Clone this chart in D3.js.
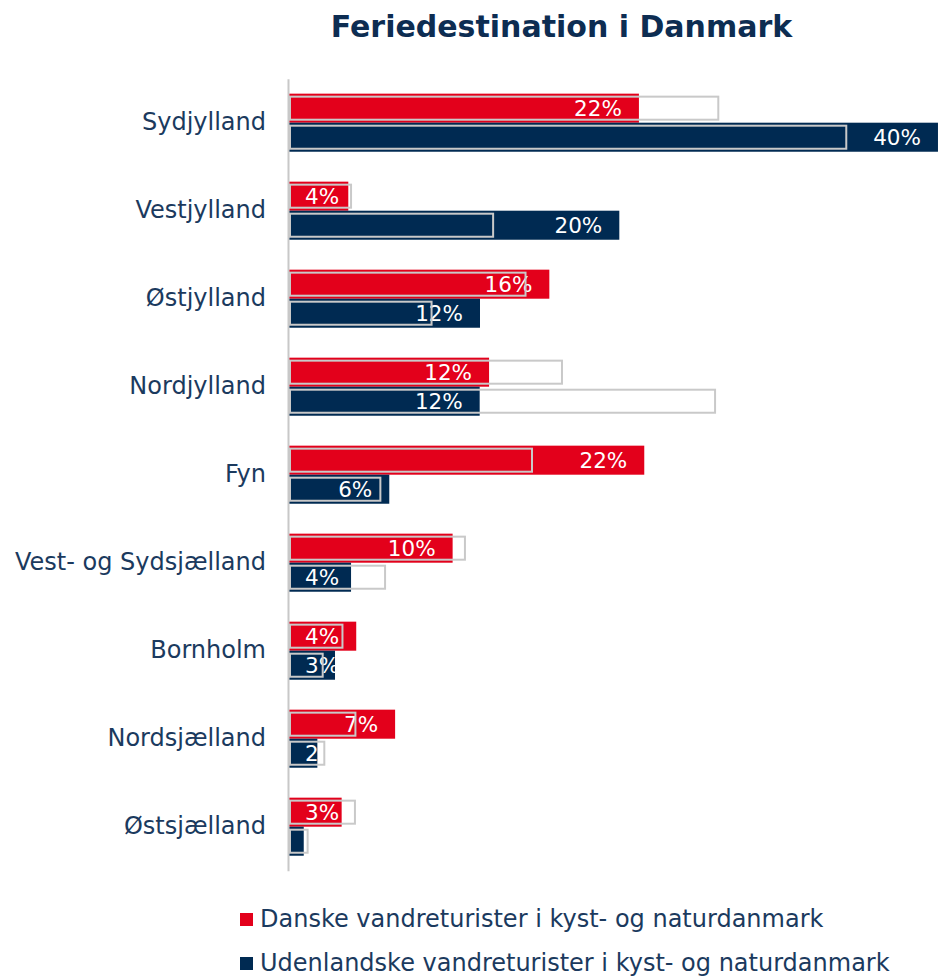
<!DOCTYPE html>
<html>
<head>
<meta charset="utf-8">
<script src="https://cdn.jsdelivr.net/npm/d3@7"></script>
<style>
body { margin: 0; background: #fff; }
svg { display: block; font-family: "DejaVu Sans", sans-serif; }
</style>
</head>
<body>
<svg></svg>
<script>
// data
var regioner = ["Sydjylland", "Vestjylland", "Østjylland", "Nordjylland", "Fyn",
                "Vest- og Sydsjælland", "Bornholm", "Nordsjælland", "Østsjælland"];
var danske = [21.6, 3.66, 16.07, 12.35, 21.93, 10.1, 4.15, 6.55, 3.25];
var udenlandske = [40.06, 20.39, 11.79, 11.77, 6.19, 3.83, 2.84, 1.75, 0.91];
// the grey outlined bars (reference values)
var danskeRef = [26.5, 3.83, 14.6, 16.85, 15.0, 10.86, 3.3, 4.1, 4.07];
var udenlandskeRef = [34.4, 12.6, 8.8, 26.3, 5.64, 5.93, 2.08, 2.18, 1.15];
var serier = ["Danske vandreturister i kyst- og naturdanmark",
              "Udenlandske vandreturister i kyst- og naturdanmark"];
var farver = ["#e3001b", "#002a52"];

var screen = {width: 938, height: 978};
var tekstFarve = "#1b3a5e";

var svg = d3.select("svg")
    .attr("width", screen.width)
    .attr("height", screen.height);

var rows = [];
regioner.forEach(function(r, i) {
    rows.push({region: r, serie: 0, value: danske[i], ref: danskeRef[i]});
    rows.push({region: r, serie: 1, value: udenlandske[i], ref: udenlandskeRef[i]});
});

var xScale = d3.scaleLinear()
    .domain([0, 40])
    .range([289, 937]);

var yScale = d3.scaleBand()
    .domain(regioner)
    .range([78.7, 870.7])
    .paddingInner(0.34)
    .paddingOuter(0.17);

var ySub = d3.scaleBand()
    .domain([0, 1])
    .range([0, yScale.bandwidth()]);

// title
svg.append("text")
    .attr("x", 561.5)
    .attr("y", 37)
    .attr("text-anchor", "middle")
    .attr("font-size", "30px")
    .attr("font-weight", "bold")
    .attr("fill", "#0d2d52")
    .text("Feriedestination i Danmark");

// bars
svg.append("g")
    .selectAll("rect")
    .data(rows)
    .enter()
    .append("rect")
    .attr("x", xScale(0))
    .attr("y", function(d) { return yScale(d.region) + ySub(d.serie); })
    .attr("width", function(d) { return xScale(d.value) - xScale(0); })
    .attr("height", ySub.bandwidth())
    .attr("fill", function(d) { return farver[d.serie]; });

// value labels (white, inside end)
svg.append("g")
    .selectAll("text")
    .data(rows)
    .enter()
    .append("text")
    .attr("y", function(d) { return yScale(d.region) + ySub(d.serie) + ySub.bandwidth() / 2; })
    .attr("dy", "0.36em")
    .attr("font-size", "21.5px")
    .attr("fill", "#fff")
    .text(function(d) { return Math.round(d.value) + "%"; })
    .attr("x", function(d) {
        var w = this.getComputedTextLength();
        return Math.max(xScale(d.value) - 17 - w, xScale(0) + 16);
    });

// outlined reference bars on top
svg.append("g")
    .selectAll("rect")
    .data(rows)
    .enter()
    .append("rect")
    .attr("x", xScale(0) + 1)
    .attr("y", function(d) { return yScale(d.region) + ySub(d.serie) + 3; })
    .attr("width", function(d) { return xScale(d.ref) - xScale(0) - 1; })
    .attr("height", ySub.bandwidth() - 6)
    .attr("fill", "none")
    .attr("stroke", "#c9c9c9")
    .attr("stroke-width", 2);

// category axis
var yAxis = d3.axisLeft(yScale).tickSize(0).tickSizeOuter(0).tickPadding(22);
var ax = svg.append("g")
    .attr("transform", "translate(288,0)")
    .call(yAxis);
ax.select(".domain").attr("stroke", "#c8c8c8").attr("stroke-width", 2);
ax.selectAll("text")
    .attr("font-size", "24px")
    .attr("font-family", "DejaVu Sans, sans-serif")
    .attr("fill", tekstFarve);

// legend
var legend = svg.append("g")
    .selectAll("g")
    .data(serier)
    .enter()
    .append("g")
    .attr("transform", function(d, i) { return "translate(240," + (913 + i * 44) + ")"; });
legend.append("rect")
    .attr("width", 13)
    .attr("height", 13)
    .attr("fill", function(d, i) { return farver[i]; });
legend.append("text")
    .attr("x", 20)
    .attr("y", 14)
    .attr("font-size", "24px")
    .attr("fill", tekstFarve)
    .text(function(d) { return d; });
</script>
</body>
</html>
